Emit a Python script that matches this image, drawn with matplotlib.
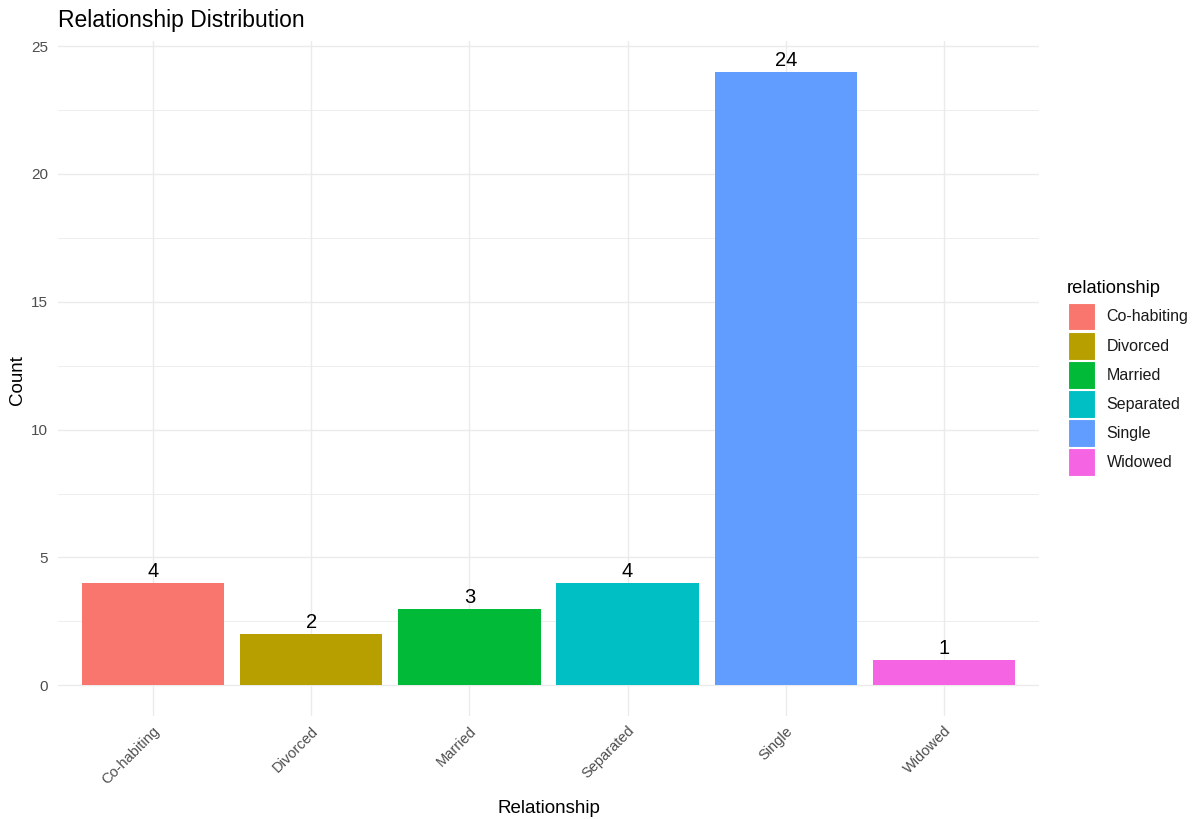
import matplotlib
matplotlib.use("Agg")
import matplotlib.pyplot as plt
from matplotlib.patches import Patch, Rectangle
from matplotlib.legend_handler import HandlerPatch

categories = ["Co-habiting", "Divorced", "Married", "Separated", "Single", "Widowed"]
counts = [4, 2, 3, 4, 24, 1]
colors = ["#F8766D", "#B79F00", "#00BA38", "#00BFC4", "#619CFF", "#F564E3"]
y_ticks = [0, 5, 10, 15, 20, 25]
y_minor = [2.5, 7.5, 12.5, 17.5, 22.5]

plt.rcParams['font.family'] = ['Liberation Sans', 'DejaVu Sans']

W, H = 1199, 819
fig = plt.figure(figsize=(W / 100, H / 100), dpi=100)
left, right, bottom, top = 58, 1039, 716, 41
ax = fig.add_axes([left / W, (H - bottom) / H, (right - left) / W, (bottom - top) / H])

x = list(range(1, len(categories) + 1))
ax.bar(x, counts, width=0.9, color=colors, zorder=3)
for xi, c in zip(x, counts):
    ax.annotate(str(c), (xi, c), xytext=(0, 1.5), textcoords='offset points',
                ha='center', va='bottom', fontsize=14.5, color='black', zorder=4)

ax.set_xlim(0.4, 6.6)
ax.set_ylim(-1.2, 25.2)
ax.set_yticks(y_ticks)
ax.set_yticks(y_minor, minor=True)
ax.set_xticks(x)
ax.set_xticklabels(categories, rotation=45, ha='right', va='top', rotation_mode='anchor')

ax.grid(True, which='major', color='#EBEBEB', linewidth=1.0, zorder=0)
ax.grid(True, which='minor', axis='y', color='#EBEBEB', linewidth=0.6, zorder=0)
for s in ax.spines.values():
    s.set_visible(False)
ax.tick_params(axis='both', which='both', length=0)
ax.tick_params(axis='y', labelsize=11, labelcolor='#4D4D4D', pad=7)
ax.tick_params(axis='x', labelsize=10.5, labelcolor='#4D4D4D', pad=5.5)

fig.text(17.5 / W, 1 - 380 / H, "Count", fontsize=13.5, color='black',
         rotation=90, ha='center', va='center')
fig.text(548.5 / W, 1 - 813 / H, "Relationship", fontsize=13.5, color='black',
         ha='center', va='baseline')
fig.text(58 / W, 1 - 21 / H, "Relationship Distribution", fontsize=16.5, color='black',
         ha='left', va='center')

# legend
fs = 11.5


def full_rect(legend, orig_handle, xdescent, ydescent, width, height, fontsize):
    return Rectangle((-xdescent, -ydescent), width, height)


handles = [Patch(facecolor=c, edgecolor='white', linewidth=0.8, label=l)
           for c, l in zip(colors, categories)]
leg = fig.legend(handles=handles, loc='upper left',
                 bbox_to_anchor=(1067.5 / W, 1 - 302.5 / H), frameon=False,
                 fontsize=fs, handlelength=1.753, handleheight=2.32,
                 handletextpad=0.69, labelspacing=0.075, borderpad=0, borderaxespad=0,
                 handler_map={Patch: HandlerPatch(patch_func=full_rect)})
for t in leg.get_texts():
    t.set_color('#1A1A1A')
fig.text(1067 / W, 1 - 293 / H, "relationship", fontsize=13.2, color='black',
         ha='left', va='baseline')

fig.savefig("out.png", dpi=100)
